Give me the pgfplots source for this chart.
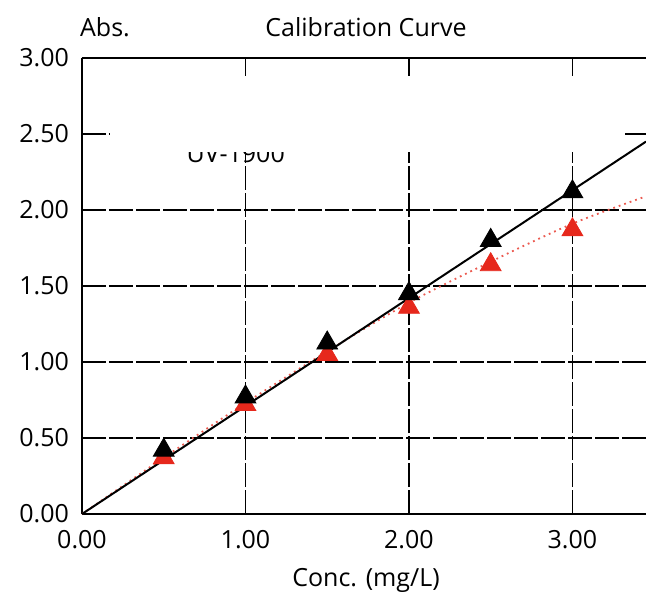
\documentclass[border=0pt]{standalone}
\usepackage{pgfplots}
\pgfplotsset{compat=1.18}
\usepackage{fontspec}
\setmainfont{Open Sans}
\definecolor{tred}{RGB}{230,40,28}
\definecolor{lred}{RGB}{235,90,80}
\newcommand{\lf}{\fontsize{12.5}{14}\selectfont}
\begin{document}
\begin{tikzpicture}
\begin{axis}[
  at={(0,0)}, anchor=south west,
  scale only axis, width=282pt, height=228pt,
  xmin=0, xmax=3.45, ymin=0, ymax=3,
  axis x line=box, axis y line=left,
  axis line style={-, line width=0.9pt, black},
  xtick={0,1,2,3}, ytick={0,0.5,1,1.5,2,2.5,3},
  xticklabels={0.00,1.00,2.00,3.00},
  yticklabels={0.00,0.50,1.00,1.50,2.00,2.50,3.00},
  major tick length=0pt,
  tick label style={font=\lf},
  yticklabel style={xshift=-3pt},
  xticklabel style={yshift=-4.5pt},
  grid=major,
  major grid style={black, line width=0.9pt, dash pattern=on 12pt off 1.5pt},
  clip=true,
]
% fitted curves
\addplot[lred, line width=0.9pt, dotted, smooth] coordinates {
 (0,0) (0.5,0.37) (1,0.73) (1.5,1.07) (2,1.39) (2.5,1.66) (3,1.91) (3.45,2.09)};
\addplot[black, line width=1pt] coordinates {(0,0) (3.45,2.45)};
% measured points
\addplot[only marks, mark=triangle*, mark size=6pt, color=tred] coordinates {
 (0.5,0.37) (1,0.72) (1.5,1.05) (2,1.36) (2.5,1.64) (3,1.87)};
\addplot[only marks, mark=triangle*, mark size=6pt, color=black] coordinates {
 (0.5,0.42) (1,0.77) (1.5,1.125) (2,1.45) (2.5,1.80) (3,2.12)};
% partly hidden label and white box
\node[anchor=base, font=\lf, inner sep=0pt] at (axis cs:0.94,2.31) {UV-1900};
\fill[white] (axis cs:0.17,2.38) rectangle (axis cs:3.32,2.88);
\end{axis}
\node[font=\lf] at (11.5pt,243.5pt) {Abs.};
\node[font=\lf] at (142pt,243.5pt) {Calibration Curve};
\node[font=\lf] at (142pt,-33pt) {Conc. (mg/L)};
\pgfresetboundingbox
\useasboundingbox (-41pt,-42.5pt) rectangle (282pt,257pt);
\end{tikzpicture}
\end{document}
